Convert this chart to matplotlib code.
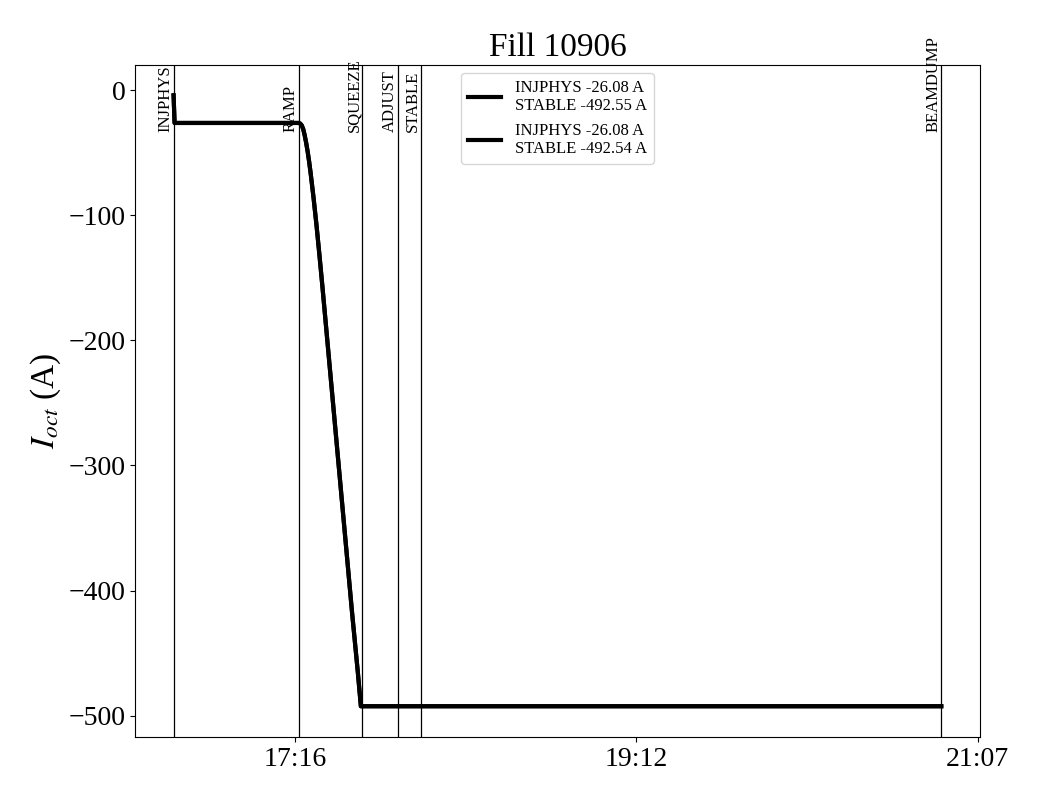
import datetime as dt
import matplotlib
matplotlib.use("Agg")
import matplotlib.pyplot as plt
import matplotlib.dates as mdates
import matplotlib.transforms as mtransforms

plt.rcParams['font.family'] = ['Liberation Serif', 'DejaVu Serif']
plt.rcParams['mathtext.fontset'] = 'stix'

day = dt.datetime(2025, 7, 20)

# beam modes and the time each one started
mode_names = ['INJPHYS', 'RAMP', 'SQUEEZE', 'ADJUST', 'STABLE', 'BEAMDUMP']
mode_times = ['16:35:30', '17:17:51', '17:39:21', '17:51:30', '17:59:18', '20:55:12']

# octupole current, flat parts
inj_times = ['16:35:30', '16:35:50']
inj_values = [-4.0, -26.08]

# ramp shape: minutes after RAMP start -> current
ramp_minutes = [0, 0.5, 1, 1.5, 2, 2.5, 3, 3.5, 4, 5, 6, 7, 8, 9, 10, 12, 14, 16, 18, 20, 21]
ramp_values = [-26.08, -26.6, -28, -31, -36, -42, -49, -57, -66, -86, -108, -132,
               -157, -183, -209, -261, -313, -365, -417, -466, -492.55]

stable_b1 = -492.55
stable_b2 = -492.54
inj_level = -26.08

tick_times = ['17:16:30', '19:12:00', '21:07:30']


def t(s):
    h, m, sec = [int(v) for v in s.split(':')]
    return day + dt.timedelta(hours=h, minutes=m, seconds=sec)


def series(stable):
    xs = [t(s) for s in inj_times]
    ys = list(inj_values)
    ramp0 = t(mode_times[1])
    for m, v in zip(ramp_minutes, ramp_values):
        xs.append(ramp0 + dt.timedelta(minutes=m))
        ys.append(v)
    ys[-1] = stable
    xs.append(t(mode_times[-1]))
    ys.append(stable)
    return xs, ys


fig = plt.figure(figsize=(10.4, 8), dpi=100)
ax = fig.add_axes([0.13, 0.079, 0.812, 0.84])

for stable in [stable_b1, stable_b2]:
    xs, ys = series(stable)
    ax.plot(xs, ys, color='black', lw=3,
            label='INJPHYS %.2f A\nSTABLE %.2f A' % (inj_level, stable))

trans = mtransforms.blended_transform_factory(ax.transData, ax.transAxes)
for name, tm in zip(mode_names, mode_times):
    ax.axvline(t(tm), color='black', lw=0.9)
    ax.text(t(tm), 0.9, name, rotation=90, ha='right', va='bottom',
            fontsize=12, transform=trans)

ax.set_xticks([t(s) for s in tick_times])
ax.xaxis.set_major_formatter(mdates.DateFormatter('%H:%M'))
ax.tick_params(labelsize=20)
ax.set_ylabel('$I_{oct}$ (A)', fontsize=24)
ax.set_title('Fill 10906', fontsize=24)
ax.legend(loc='upper center', fontsize=12)

fig.savefig('out.png', dpi=100)
